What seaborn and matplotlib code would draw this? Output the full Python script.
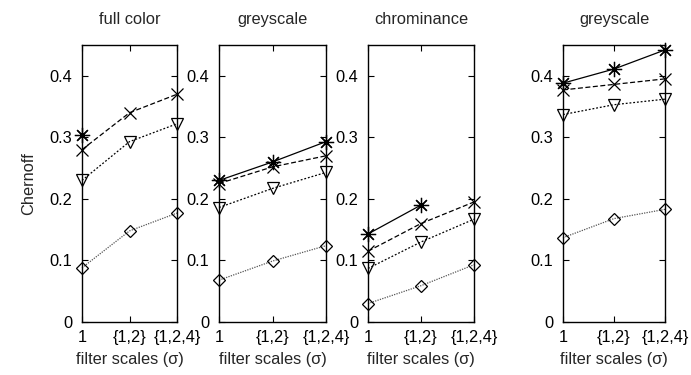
import numpy as np
import pandas as pd
import matplotlib
matplotlib.use("Agg")
import matplotlib.pyplot as plt
import seaborn as sns

# data (nan = no point drawn)
scales = [1, 2, 3]
scale_labels = ["1", "{1,2}", "{1,2,4}"]
panel_titles = ["full color", "greyscale", "chrominance", "greyscale"]

star_vals = [
    [0.303, np.nan, np.nan],
    [0.230, 0.260, 0.293],
    [0.143, 0.190, np.nan],
    [0.388, 0.411, 0.442],
]
cross_vals = [
    [0.280, 0.340, 0.370],
    [0.225, 0.252, 0.270],
    [0.115, 0.160, 0.195],
    [0.377, 0.386, 0.395],
]
tri_vals = [
    [0.230, 0.293, 0.322],
    [0.186, 0.217, 0.243],
    [0.087, 0.130, 0.167],
    [0.337, 0.353, 0.362],
]
diamond_vals = [
    [0.088, 0.148, 0.177],
    [0.068, 0.099, 0.124],
    [0.030, 0.059, 0.093],
    [0.137, 0.168, 0.183],
]

sns.set_theme(style="white")
plt.rcParams['font.family'] = ['Liberation Sans', 'DejaVu Sans']
fs = 11.8

W, H = 691, 375
fig = plt.figure(figsize=(W / 100, H / 100), dpi=100)

# axes boxes in pixels: left, right, top, bottom
boxes = [(82, 177, 45, 322), (219, 326, 45, 322), (368, 474, 45, 322), (563, 665, 45, 322)]

styles = [
    ("star", dict(marker=(8, 2, 0), markersize=11, linestyle="-", color="black", linewidth=0.9)),
    ("cross", dict(marker="x", markersize=9, linestyle=(0, (4, 2)), color="black", linewidth=0.9)),
    ("tri", dict(marker="v", markersize=8, linestyle=(0, (1.5, 1.5)), color="black", linewidth=0.9, fillstyle="none")),
    ("diamond", dict(marker="D", markersize=6.5, linestyle=(0, (1, 1)), color="#555555", linewidth=0.9, fillstyle="none")),
]

for i, (l, r, t, b) in enumerate(boxes):
    ax = fig.add_axes([l / W, 1 - b / H, (r - l) / W, (b - t) / H])
    series = {"star": star_vals[i], "cross": cross_vals[i], "tri": tri_vals[i], "diamond": diamond_vals[i]}
    for name, st in styles[::-1]:
        df = pd.DataFrame({"x": scales, "y": series[name]}).dropna()
        st = dict(st)
        color = st.pop("color")
        sns.lineplot(data=df, x="x", y="y", ax=ax, color=color, markeredgecolor="black",
                     markeredgewidth=0.9, clip_on=False, **st)
    ax.set_xlim(1, 3)
    ax.set_ylim(0, 0.45)
    ax.set_xticks(scales)
    ax.set_xticklabels(scale_labels)
    ax.set_yticks([0, 0.1, 0.2, 0.3, 0.4])
    ax.set_yticklabels(["0", "0.1", "0.2", "0.3", "0.4"])
    ax.tick_params(direction="in", length=4, width=0.8, top=True, right=True,
                   bottom=True, left=True, labelsize=fs, colors="black")
    ax.tick_params(axis="x", pad=6)
    ax.tick_params(axis="y", pad=7)
    for sp in ax.spines.values():
        sp.set_color("black")
        sp.set_linewidth(1.0)
    ax.set_title(panel_titles[i], fontsize=fs, pad=15)
    ax.set_xlabel("filter scales (σ)", fontsize=fs, labelpad=4.5)
    ax.set_ylabel("Chernoff" if i == 0 else "", fontsize=fs, labelpad=9.5)
    ax.grid(False)

fig.savefig("out.png", dpi=100)
